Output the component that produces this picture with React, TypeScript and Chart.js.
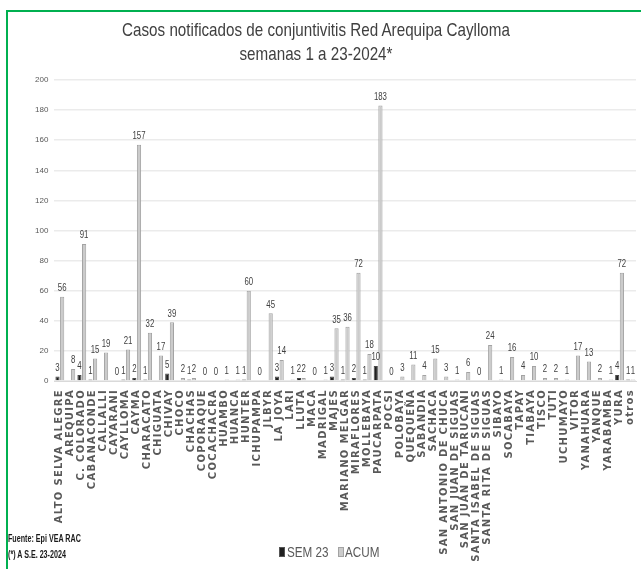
import React, { useEffect, useRef } from "react";
import { Chart, registerables } from "chart.js";

Chart.register(...registerables);

const categories = [
  "ALTO SELVA ALEGRE", "AREQUIPA", "C. COLORADO", "CABANACONDE", "CALLALLI", "CAYARANI",
  "CAYLLOMA", "CAYMA", "CHARACATO", "CHIGUATA", "CHIVAY", "CHOCO", "CHACHAS", "COPORAQUE",
  "COCACHACRA", "HUAMBO", "HUANCA", "HUNTER", "ICHUPAMPA", "JLBYR", "LA JOYA", "LARI",
  "LLUTA", "MACA", "MADRIGAL", "MAJES", "MARIANO MELGAR", "MIRAFLORES", "MOLLEBAYA",
  "PAUCARPATA", "POCSI", "POLOBAYA", "QUEQUEÑA", "SABANDIA", "SACHACA",
  "SAN ANTONIO DE CHUCA", "SAN JUAN DE SIGUAS", "SAN JUAN DE TARUCANI",
  "SANTA ISABEL DE SIGUAS", "SANTA RITA DE SIGUAS", "SIBAYO", "SOCABAYA", "TAPAY",
  "TIABAYA", "TISCO", "TUTI", "UCHUMAYO", "VITOR", "YANAHUARA", "YANQUE", "YARABAMBA",
  "YURA", "otros",
];

const sem23: (number | null)[] = [
  3, null, 4, 1, null, null, 1, 2, 1, null, 5, null, 1, null, null, null, null, 1, null, null,
  3, null, 2, null, null, 3, 1, 2, 1, 10, null, null, null, null, null, null, null, null, null,
  null, null, null, null, null, null, null, null, null, null, null, null, 4, 1,
];

const acum: number[] = [
  56, 8, 91, 15, 19, 0, 21, 157, 32, 17, 39, 2, 2, 0, 0, 1, 1, 60, 0, 45,
  14, 1, 2, 0, 1, 35, 36, 72, 18, 183, 0, 3, 11, 4, 15, 3, 1, 6, 0,
  24, 1, 16, 4, 10, 2, 2, 1, 17, 13, 2, 1, 72, 1,
];

const yMin = 0;
const yMax = 200;
const yStep = 20;

const titleLines = ["Casos notificados de conjuntivitis Red Arequipa Caylloma", "semanas 1 a 23-2024*"];
const seriesNames = ["SEM 23", "ACUM"];
const footnotes = ["Fuente: Epi VEA RAC", "(*) A S.E. 23-2024"];

const valueLabels = {
  id: "valueLabels",
  afterDatasetsDraw(chart: any) {
    const ctx = chart.ctx;
    chart.data.datasets.forEach((ds: any, di: number) => {
      const meta = chart.getDatasetMeta(di);
      meta.data.forEach((el: any, i: number) => {
        const v = ds.data[i];
        if (v === null || v === undefined) return;
        ctx.save();
        ctx.translate(el.x, el.y - 3);
        ctx.scale(0.68, 1);
        ctx.font = "11.5px 'Liberation Sans', Arial, sans-serif";
        ctx.fillStyle = "#404040";
        ctx.textAlign = "center";
        ctx.textBaseline = "bottom";
        ctx.fillText(String(v), 0, 0);
        ctx.restore();
      });
    });
  },
};

const xLabels = {
  id: "xLabels",
  afterDraw(chart: any) {
    const ctx = chart.ctx;
    const xs = chart.scales.x;
    const top = chart.chartArea.bottom + 8;
    ctx.save();
    ctx.font = "bold 10px 'DejaVu Sans', sans-serif";
    (ctx as any).letterSpacing = "1.3px";
    ctx.fillStyle = "#595959";
    ctx.textAlign = "right";
    ctx.textBaseline = "middle";
    categories.forEach((c, i) => {
      const x = xs.getPixelForValue(i);
      ctx.save();
      ctx.translate(x, top);
      ctx.rotate(-Math.PI / 2);
      ctx.fillText(c, 0, 0);
      ctx.restore();
    });
    ctx.restore();
  },
};

export default function App() {
  const ref = useRef<HTMLCanvasElement>(null);

  useEffect(() => {
    if (!ref.current) return;
    const chart = new Chart(ref.current, {
      type: "bar",
      data: {
        labels: categories,
        datasets: [
          {
            label: seriesNames[0],
            data: sem23,
            backgroundColor: "#1f1f1f",
            borderColor: "#4a4a4a",
            borderWidth: 1,
            categoryPercentage: 0.85,
            barPercentage: 0.9,
          },
          {
            label: seriesNames[1],
            data: acum,
            backgroundColor: "#cbcbcb",
            borderColor: "#a3a3a3",
            borderWidth: 1,
            categoryPercentage: 0.85,
            barPercentage: 0.9,
          },
        ],
      },
      options: {
        animation: false,
        responsive: false,
        maintainAspectRatio: false,
        layout: { padding: { top: 80, bottom: 180, left: 29, right: 5 } },
        plugins: {
          legend: { display: false },
          title: { display: false },
          tooltip: { enabled: false },
        },
        scales: {
          x: {
            ticks: { display: false },
            grid: { display: false },
            border: { color: "#d9d9d9", width: 1 },
          },
          y: {
            min: yMin,
            max: yMax,
            ticks: {
              stepSize: yStep,
              font: { size: 8, family: "'Liberation Sans', Arial, sans-serif" },
              color: "#595959",
              padding: 6,
            },
            grid: { color: "#ebebeb", lineWidth: 1.5, drawTicks: false },
            border: { display: false },
          },
        },
      },
      plugins: [valueLabels, xLabels],
    });
    return () => chart.destroy();
  }, []);

  const font = "'Liberation Sans', Arial, sans-serif";

  return (
    <div style={{ position: "fixed", left: 0, top: 0, width: 641, height: 569, background: "#fff", overflow: "hidden" }}>
      <div
        style={{
          position: "absolute",
          left: 6,
          top: 10,
          right: -10,
          bottom: -10,
          borderTop: "2px solid #00b050",
          borderLeft: "2px solid #00b050",
        }}
      />
      <canvas ref={ref} width={641} height={569} style={{ position: "absolute", left: 0, top: 0 }} />
      {titleLines.map((t, i) => (
        <div
          key={i}
          style={{
            position: "absolute",
            left: 316,
            top: i === 0 ? 19 : 43,
            transform: "translateX(-50%) scaleX(0.8)",
            whiteSpace: "nowrap",
            fontFamily: font,
            fontSize: 19,
            lineHeight: "22px",
            color: "#404040",
          }}
        >
          {t}
        </div>
      ))}
      <div
        style={{
          position: "absolute",
          left: 279,
          top: 543,
          display: "flex",
          alignItems: "center",
          whiteSpace: "nowrap",
          fontFamily: font,
          fontSize: 15,
          lineHeight: "18px",
          color: "#595959",
        }}
      >
        <span style={{ display: "inline-block", width: 6, height: 10, background: "#1f1f1f", border: "1px solid #555", boxSizing: "border-box", marginRight: 2 }} />
        <span style={{ display: "inline-block", transform: "scaleX(0.78)", transformOrigin: "left center", width: 51 }}>{seriesNames[0]}</span>
        <span style={{ display: "inline-block", width: 6, height: 10, background: "#cbcbcb", border: "1px solid #a3a3a3", boxSizing: "border-box", marginRight: 1 }} />
        <span style={{ display: "inline-block", transform: "scaleX(0.78)", transformOrigin: "left center" }}>{seriesNames[1]}</span>
      </div>
      {footnotes.map((t, i) => (
        <div
          key={i}
          style={{
            position: "absolute",
            left: 8,
            top: i === 0 ? 531 : 547,
            transform: "scaleX(0.65)",
            transformOrigin: "left center",
            whiteSpace: "nowrap",
            fontFamily: font,
            fontWeight: "bold",
            fontSize: 11,
            lineHeight: "14px",
            color: "#1a1a1a",
          }}
        >
          {t}
        </div>
      ))}
    </div>
  );
}
